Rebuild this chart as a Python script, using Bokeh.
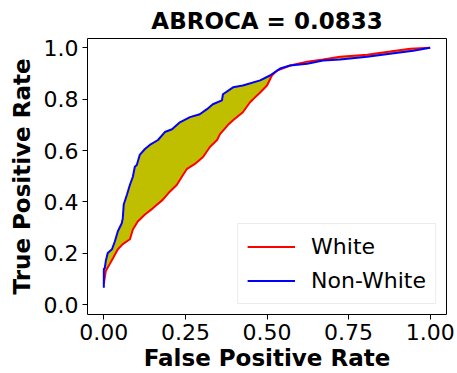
from bokeh.plotting import figure
from bokeh.models import Range1d, FixedTicker, NumeralTickFormatter, Legend, LegendItem
from bokeh.embed import file_html
from bokeh.resources import INLINE

title_text = "ABROCA = 0.0833"

# Non-White ROC curve (blue)
nw_fpr = [0.0, 0.0, 0.003, 0.006, 0.012, 0.025, 0.034, 0.043, 0.055, 0.058, 0.061, 0.071,
          0.080, 0.089, 0.095, 0.101, 0.110, 0.126, 0.141, 0.166, 0.187, 0.209, 0.233, 0.264,
          0.294, 0.316, 0.334, 0.362, 0.365, 0.396, 0.426, 0.479, 0.509, 0.540, 0.571, 0.623,
          0.672, 0.724, 0.807, 0.877, 0.948, 1.0]
nw_tpr = [0.066, 0.139, 0.143, 0.170, 0.201, 0.216, 0.247, 0.286, 0.317, 0.336, 0.390, 0.429,
          0.467, 0.498, 0.537, 0.544, 0.583, 0.606, 0.622, 0.641, 0.672, 0.683, 0.710, 0.730,
          0.741, 0.761, 0.780, 0.795, 0.819, 0.846, 0.853, 0.873, 0.892, 0.919, 0.931, 0.938,
          0.950, 0.954, 0.965, 0.977, 0.988, 1.0]

# White ROC curve (red)
w_fpr = [0.0, 0.006, 0.018, 0.028, 0.043, 0.058, 0.080, 0.089, 0.104, 0.126, 0.150, 0.181,
         0.202, 0.224, 0.239, 0.255, 0.279, 0.304, 0.325, 0.347, 0.356, 0.380, 0.396, 0.426,
         0.448, 0.457, 0.479, 0.500, 0.515, 0.531, 0.571, 0.623, 0.672, 0.724, 0.807, 0.877,
         0.939, 1.0]
w_tpr = [0.081, 0.131, 0.158, 0.181, 0.216, 0.236, 0.255, 0.293, 0.324, 0.351, 0.375, 0.409,
         0.440, 0.467, 0.498, 0.529, 0.548, 0.575, 0.614, 0.641, 0.664, 0.699, 0.718, 0.749,
         0.788, 0.799, 0.826, 0.853, 0.892, 0.911, 0.931, 0.946, 0.954, 0.965, 0.973, 0.985,
         0.996, 1.0]

x_ticks = [0.0, 0.25, 0.5, 0.75, 1.0]
y_ticks = [0.0, 0.2, 0.4, 0.6, 0.8, 1.0]

FONT = "DejaVu Sans"

p = figure(width=457, height=373, output_backend="svg", toolbar_location=None,
           x_range=Range1d(-0.05, 1.05), y_range=Range1d(-0.038, 1.036),
           min_border_left=87, min_border_right=11, min_border_top=36, min_border_bottom=59)

p.title.text = title_text
p.title.align = "center"
p.title.text_font = FONT
p.title.text_font_size = "23px"
p.title.text_font_style = "bold"
p.title.text_color = "black"

p.xgrid.visible = False
p.ygrid.visible = False
p.outline_line_color = "black"
p.outline_line_width = 1
p.background_fill_color = "white"
p.border_fill_color = "white"

# fill between curves
p.patch(nw_fpr + w_fpr[::-1], nw_tpr + w_tpr[::-1], fill_color="#bfbf00", line_color=None)
r_w = p.line(w_fpr, w_tpr, line_color="#ff0000", line_width=2)
r_nw = p.line(nw_fpr, nw_tpr, line_color="#0000ff", line_width=2)

for ax in (p.xaxis[0], p.yaxis[0]):
    ax.axis_line_color = None
    ax.major_tick_line_color = "black"
    ax.major_tick_out = 5
    ax.major_tick_in = 0
    ax.minor_tick_line_color = None
    ax.major_label_text_font = FONT
    ax.major_label_text_font_size = "22px"
    ax.major_label_text_color = "black"
    ax.axis_label_text_font = FONT
    ax.axis_label_text_font_size = "23px"
    ax.axis_label_text_font_style = "bold"
    ax.axis_label_text_color = "black"

p.xaxis[0].ticker = FixedTicker(ticks=x_ticks)
p.yaxis[0].ticker = FixedTicker(ticks=y_ticks)
p.xaxis[0].formatter = NumeralTickFormatter(format="0.00")
p.yaxis[0].formatter = NumeralTickFormatter(format="0.0")
p.xaxis[0].axis_label = "False Positive Rate"
p.yaxis[0].axis_label = "True Positive Rate"
p.xaxis[0].major_label_standoff = 4
p.yaxis[0].major_label_standoff = 4
p.xaxis[0].axis_label_standoff = 2
p.yaxis[0].axis_label_standoff = 6

legend = Legend(items=[LegendItem(label="White", renderers=[r_w]),
                       LegendItem(label="Non-White", renderers=[r_nw])],
                location="bottom_right")
legend.label_text_font = FONT
legend.label_text_font_size = "22px"
legend.label_text_color = "black"
legend.glyph_width = 48
legend.glyph_height = 27
legend.label_height = 27
legend.label_standoff = 16
legend.padding = 9
legend.spacing = 7
legend.margin = 10
legend.border_line_color = "#d9d9d9"
legend.border_line_width = 1
legend.background_fill_alpha = 0.8
p.add_layout(legend)

open("out.html", "w").write(file_html(p, INLINE))
